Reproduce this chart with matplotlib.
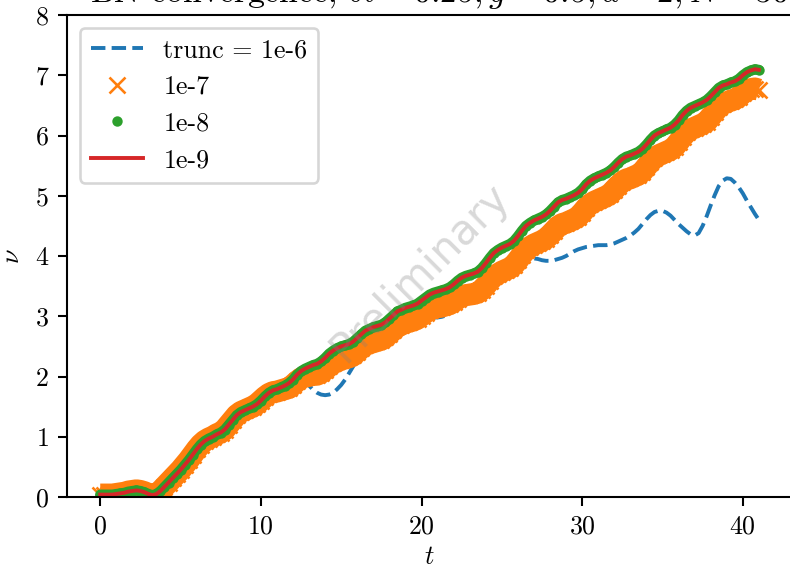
import numpy as np
import matplotlib
matplotlib.use("Agg")
import matplotlib.pyplot as plt

plt.rcParams['font.family'] = 'serif'
plt.rcParams['font.serif'] = ['cmr10']
plt.rcParams['mathtext.fontset'] = 'cm'
plt.rcParams['axes.unicode_minus'] = False
plt.rcParams['axes.formatter.use_mathtext'] = True

# time grid values (step 0.25 from 0 to 41)
t = np.arange(0, 41.0001, 0.25)

nu_1e9 = [
    0.04, 0.04, 0.04, 0.04, 0.05, 0.06, 0.07, 0.09,
    0.10, 0.11, 0.10, 0.08, 0.05, 0.03, 0.05, 0.10,
    0.17, 0.24, 0.31, 0.38, 0.45, 0.53, 0.61, 0.70,
    0.79, 0.87, 0.93, 0.97, 1.00, 1.04, 1.07, 1.12,
    1.20, 1.28, 1.36, 1.41, 1.44, 1.47, 1.50, 1.54,
    1.60, 1.67, 1.73, 1.77, 1.79, 1.82, 1.85, 1.89,
    1.95, 2.03, 2.09, 2.13, 2.16, 2.19, 2.21, 2.25,
    2.31, 2.38, 2.43, 2.47, 2.50, 2.52, 2.54, 2.58,
    2.64, 2.70, 2.76, 2.79, 2.82, 2.84, 2.86, 2.90,
    2.96, 3.02, 3.08, 3.11, 3.14, 3.16, 3.18, 3.21,
    3.26, 3.31, 3.36, 3.39, 3.41, 3.43, 3.45, 3.48,
    3.53, 3.59, 3.64, 3.67, 3.69, 3.71, 3.74, 3.80,
    3.88, 3.97, 4.05, 4.10, 4.14, 4.17, 4.20, 4.25,
    4.33, 4.42, 4.50, 4.55, 4.59, 4.62, 4.65, 4.69,
    4.75, 4.82, 4.89, 4.93, 4.95, 4.98, 5.01, 5.05,
    5.11, 5.19, 5.25, 5.29, 5.32, 5.35, 5.38, 5.42,
    5.48, 5.55, 5.61, 5.65, 5.67, 5.70, 5.73, 5.78,
    5.85, 5.93, 6.00, 6.04, 6.07, 6.10, 6.13, 6.18,
    6.25, 6.34, 6.41, 6.46, 6.49, 6.52, 6.55, 6.59,
    6.65, 6.72, 6.79, 6.83, 6.85, 6.88, 6.90, 6.94,
    7.00, 7.05, 7.08, 7.10, 7.09,
]

nu_1e8 = list(nu_1e9)

nu_1e7 = [
    0.04, 0.04, 0.04, 0.04, 0.05, 0.06, 0.07, 0.09,
    0.10, 0.11, 0.10, 0.08, 0.05, 0.03, 0.05, 0.10,
    0.17, 0.24, 0.31, 0.38, 0.45, 0.53, 0.61, 0.70,
    0.79, 0.87, 0.93, 0.97, 1.00, 1.04, 1.07, 1.12,
    1.20, 1.28, 1.36, 1.41, 1.44, 1.47, 1.50, 1.54,
    1.60, 1.66, 1.71, 1.74, 1.75, 1.77, 1.79, 1.81,
    1.86, 1.92, 1.97, 2.00, 2.01, 2.03, 2.03, 2.06,
    2.11, 2.17, 2.22, 2.25, 2.28, 2.30, 2.32, 2.35,
    2.41, 2.47, 2.52, 2.55, 2.57, 2.59, 2.61, 2.65,
    2.71, 2.77, 2.83, 2.86, 2.89, 2.91, 2.93, 2.96,
    3.01, 3.06, 3.11, 3.13, 3.15, 3.16, 3.18, 3.20,
    3.24, 3.29, 3.33, 3.35, 3.36, 3.37, 3.39, 3.44,
    3.51, 3.59, 3.66, 3.70, 3.74, 3.77, 3.80, 3.85,
    3.93, 4.02, 4.10, 4.15, 4.19, 4.22, 4.25, 4.29,
    4.35, 4.42, 4.49, 4.53, 4.55, 4.58, 4.61, 4.65,
    4.72, 4.80, 4.86, 4.90, 4.93, 4.96, 4.99, 5.03,
    5.10, 5.17, 5.23, 5.27, 5.29, 5.32, 5.35, 5.40,
    5.48, 5.56, 5.63, 5.67, 5.70, 5.73, 5.76, 5.81,
    5.89, 5.98, 6.05, 6.10, 6.13, 6.16, 6.19, 6.23,
    6.31, 6.39, 6.47, 6.52, 6.55, 6.58, 6.60, 6.64,
    6.70, 6.75, 6.77, 6.78, 6.76,
]

nu_1e6 = [
    0.04, 0.04, 0.04, 0.04, 0.05, 0.06, 0.07, 0.09,
    0.10, 0.11, 0.10, 0.08, 0.05, 0.03, 0.05, 0.10,
    0.17, 0.24, 0.31, 0.38, 0.45, 0.53, 0.61, 0.70,
    0.79, 0.87, 0.93, 0.97, 1.00, 1.04, 1.07, 1.12,
    1.20, 1.28, 1.36, 1.41, 1.44, 1.47, 1.50, 1.54,
    1.60, 1.67, 1.73, 1.77, 1.79, 1.82, 1.85, 1.89,
    1.95, 1.98, 1.97, 1.92, 1.85, 1.78, 1.73, 1.70,
    1.69, 1.70, 1.73, 1.79, 1.86, 1.95, 2.06, 2.17,
    2.28, 2.37, 2.44, 2.50, 2.54, 2.57, 2.60, 2.63,
    2.68, 2.73, 2.78, 2.81, 2.83, 2.85, 2.87, 2.90,
    2.93, 2.96, 2.98, 2.98, 2.98, 2.99, 3.01, 3.05,
    3.12, 3.20, 3.26, 3.30, 3.32, 3.34, 3.36, 3.41,
    3.48, 3.56, 3.63, 3.68, 3.72, 3.75, 3.79, 3.83,
    3.87, 3.91, 3.94, 3.95, 3.96, 3.95, 3.93, 3.92,
    3.92, 3.93, 3.95, 3.97, 4.00, 4.04, 4.08, 4.11,
    4.13, 4.15, 4.16, 4.17, 4.18, 4.18, 4.18, 4.19,
    4.21, 4.24, 4.27, 4.30, 4.34, 4.39, 4.45, 4.53,
    4.61, 4.68, 4.73, 4.75, 4.75, 4.72, 4.67, 4.60,
    4.53, 4.47, 4.41, 4.36, 4.34, 4.38, 4.50, 4.66,
    4.84, 5.01, 5.16, 5.25, 5.29, 5.28, 5.22, 5.14,
    5.04, 4.92, 4.81, 4.70, 4.60,
]

labels = ["trunc = 1e-6", "1e-7", "1e-8", "1e-9"]
title = r"BN convergence, $\delta t = 0.25, g = 0.5, d = 2, N = 30$"
yticks = [0, 1, 2, 3, 4, 5, 6, 7, 8]
xticks = [0, 10, 20, 30, 40]

DPI = 187
fig = plt.figure(figsize=(790 / DPI, 570 / DPI), dpi=DPI)
ax = fig.add_axes([67.3 / 790, 1 - 497 / 570, 724.5 / 790, 482 / 570])

# 1e-6 : dashed line
ax.plot(t, nu_1e6, linestyle='--', color='C0', label=labels[0])
# 1e-7 : densely packed x markers -> solid band
ax.plot(t, nu_1e7, linestyle='-', color='C1', lw=8.5,
        solid_joinstyle='round', solid_capstyle='butt')
ax.plot(t, nu_1e7, linestyle='', marker='x', color='C1', label=labels[1])
# 1e-8 : densely packed dots -> thin band
ax.plot(t, nu_1e8, linestyle='-', color='C2', lw=3.9,
        solid_joinstyle='round', solid_capstyle='round')
ax.plot(t, nu_1e8, linestyle='', marker='.', color='C2', label=labels[2])
# 1e-9 : solid line
ax.plot(t, nu_1e9, linestyle='-', color='C3', label=labels[3])

ax.set_ylim(0, 8)
ax.set_yticks(yticks)
ax.set_xticks(xticks)
ax.set_xlabel(r"$t$", labelpad=2.5)
ax.set_ylabel(r"$\nu$")
ax.set_title(title, pad=5, fontsize=13, x=0.514)
ax.legend(loc='upper left')

fig.text(420 / 790, 1 - 272 / 570, "Preliminary", rotation=45,
         fontsize=16, color='gray', alpha=0.3, ha='center', va='center',
         family='DejaVu Sans')

fig.savefig("out.png", dpi=DPI)
